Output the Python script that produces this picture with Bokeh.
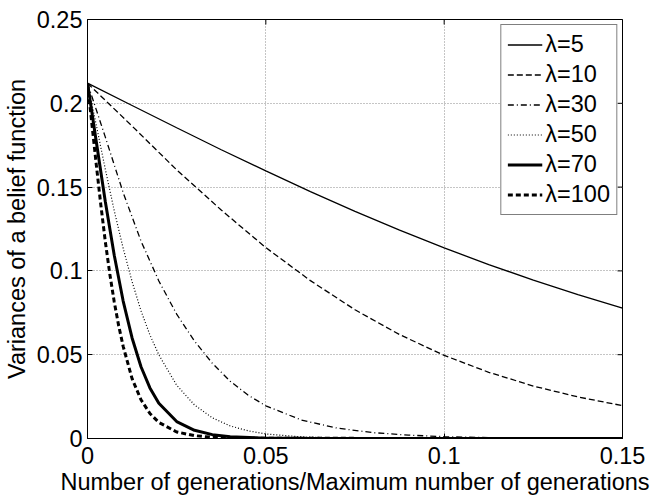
import math
from bokeh.plotting import figure
from bokeh.models import Range1d, FixedTicker
from bokeh.embed import file_html
from bokeh.resources import INLINE

# ---------------- data ----------------
x_ticks = [0, 0.05, 0.1, 0.15]
x_tick_labels = ["0", "0.05", "0.1", "0.15"]
y_ticks = [0, 0.05, 0.1, 0.15, 0.2, 0.25]
y_tick_labels = ["0", "0.05", "0.1", "0.15", "0.2", "0.25"]

series_labels = ["λ=5", "λ=10", "λ=30", "λ=50", "λ=70", "λ=100"]

x_l5 = [0, 0.0125, 0.025, 0.0375, 0.05, 0.0625, 0.075, 0.0875, 0.1, 0.1125, 0.125, 0.1375, 0.15]
y_l5 = [0.212, 0.1987, 0.1854, 0.1723, 0.1597, 0.1473, 0.1355, 0.1243, 0.1137, 0.1038, 0.0945, 0.0859, 0.0778]

x_l10 = [0, 0.0125, 0.025, 0.0375, 0.05, 0.0625, 0.075, 0.0875, 0.1, 0.1125, 0.125, 0.1375, 0.15]
y_l10 = [0.212, 0.1864, 0.1603, 0.1363, 0.1139, 0.0942, 0.0768, 0.0620, 0.0496, 0.0395, 0.0313, 0.0248, 0.0196]

x_l30 = [0, 0.005, 0.01, 0.015, 0.02, 0.025, 0.03, 0.035, 0.04, 0.045, 0.05, 0.06, 0.07, 0.08,
         0.09, 0.1, 0.11, 0.12, 0.13, 0.15]
y_l30 = [0.212, 0.1798, 0.1467, 0.1178, 0.0940, 0.0742, 0.0581, 0.0449, 0.0342, 0.0259, 0.0195,
         0.0110, 0.0062, 0.0035, 0.0020, 0.0011, 0.0006, 0.0004, 0.0002, 0.0001]

x_l50 = [0, 0.0025, 0.005, 0.0075, 0.01, 0.0125, 0.015, 0.0175, 0.02, 0.025, 0.03, 0.035, 0.04,
         0.045, 0.05, 0.06, 0.07, 0.08, 0.15]
y_l50 = [0.212, 0.1866, 0.1606, 0.1359, 0.1135, 0.0936, 0.0762, 0.0618, 0.0499, 0.0318, 0.0200,
         0.0123, 0.0075, 0.0046, 0.0027, 0.0010, 0.0003, 0.0001, 0.0]

x_l70 = [0, 0.0025, 0.005, 0.0075, 0.01, 0.0125, 0.015, 0.0175, 0.02, 0.025, 0.03, 0.035, 0.04,
         0.05, 0.06, 0.15]
y_l70 = [0.212, 0.1766, 0.1413, 0.1093, 0.0820, 0.0600, 0.0428, 0.0302, 0.0210, 0.0101, 0.0049,
         0.0023, 0.0011, 0.0002, 0.0001, 0.0]

x_l100 = [0, 0.00125, 0.0025, 0.00375, 0.005, 0.00625, 0.0075, 0.00875, 0.01, 0.0125, 0.015,
          0.0175, 0.02, 0.025, 0.03, 0.035, 0.04, 0.05, 0.15]
y_l100 = [0.212, 0.1873, 0.1627, 0.1391, 0.1174, 0.0982, 0.0815, 0.0672, 0.0550, 0.0357, 0.0231,
          0.0149, 0.0096, 0.0039, 0.0017, 0.0007, 0.0003, 0.0001, 0.0]

# ---------------- figure ----------------
FONT = "Liberation Sans"

p = figure(width=650, height=497, output_backend="svg", toolbar_location=None,
           x_range=Range1d(0, 0.15), y_range=Range1d(0, 0.25),
           min_border_left=86, min_border_right=28, min_border_top=19, min_border_bottom=56,
           background_fill_color="white", border_fill_color="white")

p.outline_line_color = "black"
p.outline_line_width = 1

p.xaxis.ticker = FixedTicker(ticks=x_ticks)
p.yaxis.ticker = FixedTicker(ticks=y_ticks)
p.xaxis.major_label_overrides = {t: s for t, s in zip(x_ticks, x_tick_labels)}
p.yaxis.major_label_overrides = {t: s for t, s in zip(y_ticks, y_tick_labels)}

p.xaxis.axis_label = "Number of generations/Maximum number of generations"
p.yaxis.axis_label = "Variances of a belief function"

for ax in (p.xaxis[0], p.yaxis[0]):
    ax.axis_label_text_font = FONT
    ax.axis_label_text_font_size = "23.5px"
    ax.axis_label_text_font_style = "normal"
    ax.axis_label_text_color = "black"
    ax.major_label_text_font = FONT
    ax.major_label_text_font_size = "23.5px"
    ax.major_label_text_color = "black"
    ax.axis_line_color = "black"
    ax.major_tick_line_color = "black"
    ax.major_tick_in = 5
    ax.major_tick_out = 0
    ax.minor_tick_line_color = None

p.xaxis.major_label_standoff = 8
p.xaxis.axis_label_standoff = 2
p.yaxis.major_label_standoff = 5
p.yaxis.axis_label_standoff = 4

for g in (p.xgrid[0], p.ygrid[0]):
    g.grid_line_color = "#8a8a8a"
    g.grid_line_dash = "1 2"
    g.grid_line_width = 1

# inward tick marks on the right and top frame edges (clipped to the frame)
p.scatter([0.15] * len(y_ticks), y_ticks, marker="dash", size=10, line_color="black",
          line_width=1)
p.scatter(x_ticks, [0.25] * len(x_ticks), marker="dash", size=10, angle=math.pi / 2,
          line_color="black", line_width=1)

styles = [
    (x_l5, y_l5, 1.3, "solid"),
    (x_l10, y_l10, 1.3, "6 3"),
    (x_l30, y_l30, 1.3, "6 3 1 3"),
    (x_l50, y_l50, 1.2, "1 2"),
    (x_l70, y_l70, 3.0, "solid"),
    (x_l100, y_l100, 3.0, "5 3"),
]
for (xs, ys, w, dash), lab in zip(styles, series_labels):
    p.line(xs, ys, line_color="black", line_width=w, line_dash=dash, legend_label=lab)

lg = p.legend[0]
lg.location = "top_right"
lg.margin = 5
lg.padding = 6
lg.spacing = 3
lg.glyph_width = 35
lg.glyph_height = 27
lg.label_height = 27
lg.label_standoff = 3
lg.label_text_font = FONT
lg.label_text_font_size = "23.5px"
lg.label_text_color = "black"
lg.border_line_color = "black"
lg.border_line_width = 1
lg.background_fill_color = "white"
lg.background_fill_alpha = 1.0

open("out.html", "w").write(file_html(p, INLINE))
